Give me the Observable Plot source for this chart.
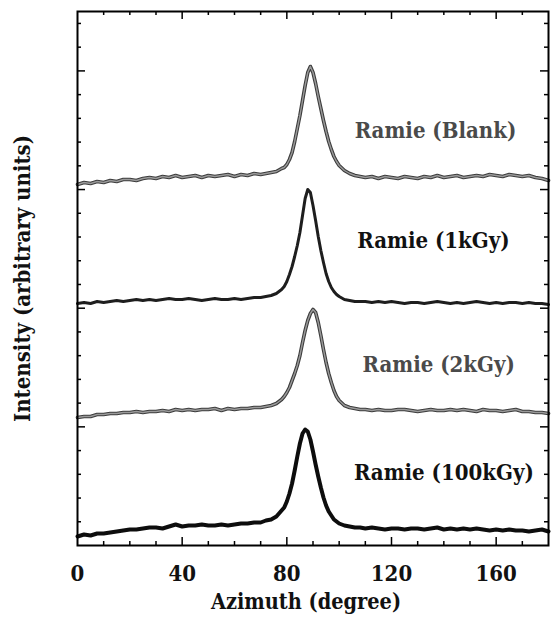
<!DOCTYPE html>
<html>
<head>
<meta charset="utf-8">
<script src="https://cdn.jsdelivr.net/npm/d3@7"></script>
<script src="https://cdn.jsdelivr.net/npm/@observablehq/plot@0.6"></script>
<style>
  html, body { margin: 0; padding: 0; background: #fff; }
  #chart svg { display: block; }
</style>
</head>
<body>
<div id="chart"></div>
<script>
// Azimuth angles (degrees), shared by all four series
const angles = [0,2.5,5,7.5,10,12.5,15,17.5,20,22.5,25,27.5,30,32.5,35,37.5,40,42.5,45,47.5,50,52.5,55,57.5,60,62.5,65,67.5,70,
  72,74,76,78,79,80,81,82,83,84,85,86,87,88,89,90,91,92,93,94,95,96,97,98,99,100,102,104,106,108,110,
  112.5,115,117.5,120,122.5,125,127.5,130,132.5,135,137.5,140,142.5,145,147.5,150,152.5,155,157.5,160,162.5,165,167.5,170,172.5,175,177.5,180];

// Stacked intensities (arbitrary units)
const blank = [361,363,362,364,363,365,364,366,366,365,367,368,367,369,368,370,368,369,370,368,370,369,370,371,369,371,370,372,371,
  372,373,374,377,378,381,386,393,404,417,430,445,460,473,479,473,462,449,437,425,414,404,396,389,384,380,375,372,370,369,368,
  369,367,369,368,367,369,368,367,369,368,370,368,369,370,368,369,370,369,371,370,369,371,370,369,370,368,367,365];

const kgy1 = [242,243,242,244,243,244,245,244,245,246,245,246,245,246,247,246,246,247,246,245,246,247,246,246,247,246,247,248,248,
  249,250,252,256,259,264,271,279,289,300,313,330,347,356,353,340,325,309,295,283,272,264,258,254,251,249,246,245,244,244,244,
  243,244,243,244,243,242,243,243,242,243,244,243,242,243,242,243,244,243,242,243,242,243,243,242,243,242,242,241];

const kgy2 = [128,129,129,131,131,132,132,133,133,134,133,134,134,135,134,136,135,136,135,136,136,137,135,137,136,137,137,138,138,
  139,140,142,146,149,153,158,165,172,180,190,203,215,225,232,236,233,223,210,196,183,172,163,155,149,145,140,138,137,136,136,
  135,136,135,135,136,136,135,134,135,136,135,135,136,135,136,135,134,136,135,135,134,135,136,134,134,133,133,132];

const kgy100 = [9,11,10,12,12,13,14,15,16,16,17,18,18,17,19,21,19,20,20,21,20,20,21,20,21,22,22,23,23,
  25,26,29,35,38,44,52,62,75,89,102,112,116,114,106,94,81,69,58,48,40,34,30,26,24,22,20,19,18,18,17,
  18,17,16,17,17,16,17,17,16,17,18,16,17,16,17,16,17,16,15,16,15,16,15,15,14,15,16,14];

const seriesNames = ["Ramie (Blank)", "Ramie (1kGy)", "Ramie (2kGy)", "Ramie (100kGy)"];
const seriesValues = [blank, kgy1, kgy2, kgy100];

const xTickLabels = [0, 40, 80, 120, 160];
const xMinorTicks = [10,20,30,50,60,70,90,100,110,130,140,150,170];
const xMajorTicks = [40,80,120,160];

const rows = seriesNames.map((name, s) =>
  angles.map((a, i) => ({series: name, angle: a, intensity: seriesValues[s][i]})));

const yStep = 23.73;
const yAll = d3.range(1, 23).map(i => i * yStep);
const yMajor = yAll.filter((d, i) => (i + 1) % 5 === 0);
const yMinor = yAll.filter((d, i) => (i + 1) % 5 !== 0);
const yTop = 534;
const xTickLen = 8 / 2.617;

const font = "DejaVu Serif Condensed";

const labelPos = [
  {text: seriesNames[0], x: 136.8, y: 415, fill: "#4a4a4a"},
  {text: seriesNames[1], x: 136, y: 305, fill: "#111"},
  {text: seriesNames[2], x: 138, y: 181, fill: "#4a4a4a"},
  {text: seriesNames[3], x: 140, y: 73, fill: "#111"}
];

const chart = Plot.plot({
  width: 551,
  height: 628,
  marginLeft: 77,
  marginRight: 3,
  marginTop: 11,
  marginBottom: 83,
  style: {fontFamily: font, background: "#fff"},
  x: {domain: [0, 180]},
  y: {domain: [0, yTop], axis: null},
  marks: [
    Plot.line(rows[0], {x: "angle", y: "intensity", stroke: "#3c3c3c", strokeWidth: 3.6}),
    Plot.line(rows[0], {x: "angle", y: "intensity", stroke: "#9a9a9a", strokeWidth: 1.4}),
    Plot.line(rows[1], {x: "angle", y: "intensity", stroke: "#1e1e1e", strokeWidth: 3}),
    Plot.line(rows[2], {x: "angle", y: "intensity", stroke: "#3c3c3c", strokeWidth: 3.6}),
    Plot.line(rows[2], {x: "angle", y: "intensity", stroke: "#9a9a9a", strokeWidth: 1.4}),
    Plot.line(rows[3], {x: "angle", y: "intensity", stroke: "#0d0d0d", strokeWidth: 4}),
    Plot.ruleX(xMajorTicks, {x: d => d, y1: 0, y2: 8, stroke: "#000", strokeWidth: 1.5}),
    Plot.ruleX(xMinorTicks, {x: d => d, y1: 0, y2: 4, stroke: "#000", strokeWidth: 1.5}),
    Plot.ruleX(xMajorTicks, {x: d => d, y1: yTop - 8, y2: yTop, stroke: "#000", strokeWidth: 1.5}),
    Plot.ruleX(xMinorTicks, {x: d => d, y1: yTop - 4, y2: yTop, stroke: "#000", strokeWidth: 1.5}),
    Plot.ruleY(yMajor, {y: d => d, x1: 0, x2: xTickLen, stroke: "#000", strokeWidth: 1.5}),
    Plot.ruleY(yMinor, {y: d => d, x1: 0, x2: xTickLen / 2, stroke: "#000", strokeWidth: 1.5}),
    Plot.ruleY(yMajor, {y: d => d, x1: 180 - xTickLen, x2: 180, stroke: "#000", strokeWidth: 1.5}),
    Plot.ruleY(yMinor, {y: d => d, x1: 180 - xTickLen / 2, x2: 180, stroke: "#000", strokeWidth: 1.5}),
    Plot.frame({stroke: "#000", strokeWidth: 2}),
    Plot.axisX({anchor: "bottom", ticks: xTickLabels, tickSize: 0, tickPadding: 20, fontSize: 22, fontWeight: "bold", fontFamily: font, label: null, fill: "#111"}),
    Plot.text(labelPos, {x: "x", y: "y", text: "text", fill: "fill", fontSize: 22, fontWeight: "bold", fontFamily: font, textAnchor: "middle"}),
    Plot.text(["Azimuth (degree)"], {frameAnchor: "bottom", dy: 63, dx: -7, fontSize: 21.5, fontWeight: "bold", fontFamily: font, fill: "#111"}),
    Plot.text(["Intensity (arbitrary units)"], {frameAnchor: "left", dx: -55, rotate: -90, textAnchor: "middle", fontSize: 22, fontWeight: "bold", fontFamily: font, fill: "#111"})
  ]
});

document.getElementById("chart").appendChild(chart);
</script>
</body>
</html>
